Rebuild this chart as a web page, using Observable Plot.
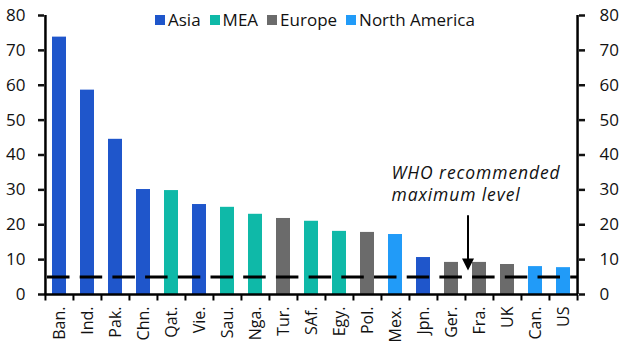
<!DOCTYPE html>
<html>
<head>
<meta charset="utf-8">
<script src="https://cdn.jsdelivr.net/npm/d3@7"></script>
<script src="https://cdn.jsdelivr.net/npm/@observablehq/plot@0.6"></script>
<style>
  body { margin: 0; background: #fff; }
  #wrap { position: relative; width: 631px; height: 357px; font-family: "Open Sans", sans-serif; }
  #legend { position: absolute; top: 8px; left: 155px; display: flex; align-items: center; font-size: 17px; color: #111; line-height: 24px; }
  .item { display: flex; align-items: center; margin-right: 9px; }
  .sw { width: 10px; height: 10px; margin-right: 3px; }
</style>
</head>
<body>
<div id="wrap"><div id="legend"></div></div>
<script>
const categories = ["Ban.","Ind.","Pak.","Chn.","Qat.","Vie.","Sau.","Nga.","Tur.","SAf.","Egy.","Pol.","Mex.","Jpn.","Ger.","Fra.","UK","Can.","US"];
const values = [73.8, 58.6, 44.5, 30.1, 29.8, 25.8, 25.0, 23.0, 21.8, 21.0, 18.1, 17.8, 17.2, 10.6, 9.2, 9.2, 8.6, 8.0, 7.7];
const regions = ["Asia","Asia","Asia","Asia","MEA","Asia","MEA","MEA","Europe","MEA","MEA","Europe","North America","Asia","Europe","Europe","Europe","North America","North America"];
const regionNames = ["Asia","MEA","Europe","North America"];
const regionColors = ["#1f56cb","#0fb9a8","#6b6b6b","#219bf8"];
const yTicks = [0,10,20,30,40,50,60,70,80];
const whoLevel = 5;
const annotationText = "WHO recommended\nmaximum level";

const data = categories.map((c, i) => ({cat: c, value: values[i], region: regions[i]}));

const width = 631, height = 357;
const marginLeft = 44, marginRight = 53, marginTop = 15, marginBottom = 63;
const step = (width - marginLeft - marginRight) / categories.length;

const tickSymbol = {draw(ctx) { ctx.moveTo(0, 0); ctx.lineTo(0, 6); }};
const headSymbol = {draw(ctx) { ctx.moveTo(0, 0); ctx.lineTo(-6, -12); ctx.lineTo(6, -12); ctx.closePath(); }};

const chart = Plot.plot({
  width, height, marginLeft, marginRight, marginTop, marginBottom,
  style: {fontSize: "17px", fontFamily: "Open Sans, sans-serif", color: "#111", background: "#fff"},
  x: {domain: categories, paddingInner: 0.5, paddingOuter: 0.25, axis: null},
  y: {domain: [0, 80], axis: null},
  color: {domain: regionNames, range: regionColors},
  marks: [
    Plot.barY(data, {x: "cat", y: "value", fill: "region"}),
    Plot.ruleY([whoLevel], {stroke: "#000", strokeWidth: 3, strokeDasharray: "22.5,10.2", strokeDashoffset: 29.7}),
    // axes lines
    Plot.ruleY([0], {stroke: "#000", strokeWidth: 2.5}),
    Plot.ruleX([categories[0]], {x: d => d, dx: -step / 2, y1: 0, y2: 80, stroke: "#000", strokeWidth: 2.5}),
    Plot.ruleX([categories[categories.length - 1]], {x: d => d, dx: step / 2, y1: 0, y2: 80, stroke: "#000", strokeWidth: 2.5}),
    // x boundary ticks
    Plot.dot(categories, {x: d => d, y: () => 0, dx: -step / 2, symbol: tickSymbol, stroke: "#000", strokeWidth: 2, fill: "none"}),
    Plot.dot([categories[categories.length - 1]], {x: d => d, y: () => 0, dx: step / 2, symbol: tickSymbol, stroke: "#000", strokeWidth: 2, fill: "none"}),
    Plot.axisX({tickSize: 0, tickPadding: 12, tickRotate: -90, fontSize: 16, fill: "#111", label: null}),
    Plot.axisY({anchor: "left", ticks: yTicks, tickSize: 6, tickPadding: 13, strokeWidth: 2.5, fontSize: 17, fill: "#111", label: null}),
    Plot.axisY({anchor: "right", ticks: yTicks, tickSize: 6, tickPadding: 15, strokeWidth: 2.5, fontSize: 17, fill: "#111", label: null}),
    // annotation
    Plot.ruleX(["Fra."], {x: d => d, dx: -11.5, y1: 22.6, y2: 9, stroke: "#000", strokeWidth: 2}),
    Plot.dot(["Fra."], {x: d => d, y: () => 6.9, dx: -11.5, symbol: headSymbol, fill: "#000", stroke: "none"}),
    Plot.text([annotationText], {x: () => "Mex.", y: () => 37.6, dx: -4, text: d => d, textAnchor: "start", lineAnchor: "top", lineHeight: 1.26, fontStyle: "italic", fontSize: 17.5, fill: "#111", style: "letter-spacing: 0.9px"})
  ]
});
document.getElementById("wrap").prepend(chart);
chart.querySelectorAll("text").forEach(t => { if (t.textContent.startsWith("WHO") || t.closest("g")?.textContent?.startsWith("WHO")) t.style.letterSpacing = "0.9px"; });

const legend = document.getElementById("legend");
regionNames.forEach((r, i) => {
  const item = document.createElement("div");
  item.className = "item";
  const sw = document.createElement("div");
  sw.className = "sw";
  sw.style.background = regionColors[i];
  const t = document.createElement("span");
  t.textContent = r;
  item.append(sw, t);
  legend.append(item);
});
</script>
</body>
</html>
